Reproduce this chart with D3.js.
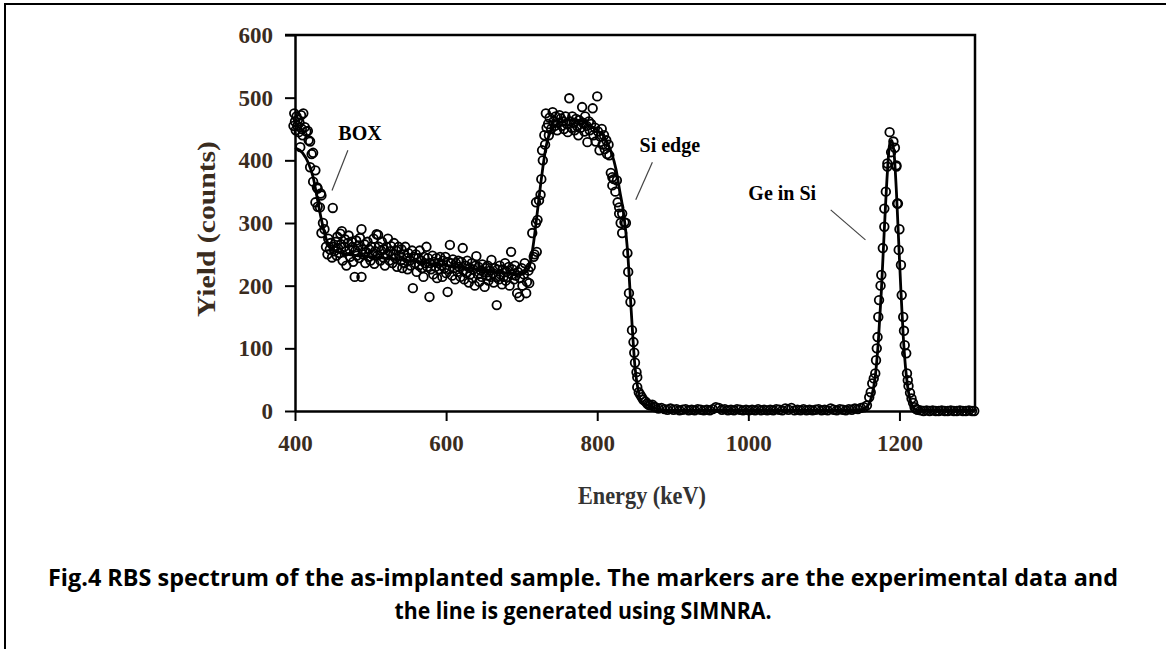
<!DOCTYPE html>
<html>
<head>
<meta charset="utf-8">
<script src="https://cdn.jsdelivr.net/npm/d3@7"></script>
<style>
  body { margin: 0; background: #fff; }
  svg { display: block; }
</style>
</head>
<body>
<svg width="1166" height="649"></svg>
<script>
// SIMNRA simulation (line)
var simEnergy = [400,410,418,424,430,435,440,446,455,470,500,550,600,650,680,700,706,710,715,720,726,732,740,750,760,770,780,790,800,810,818,825,830,835,840,845,850,855,860,870,880,900,1000,1100,1150,1158,1163,1168,1172,1176,1180,1184,1187,1190,1193,1196,1199,1202,1205,1208,1211,1214,1218,1222,1230,1300];
var simCounts = [420,412,395,373,336,305,280,262,255,250,246,240,232,225,220,218,222,230,262,310,370,420,450,460,464,465,462,456,448,436,415,385,350,315,258,160,70,28,12,8,3,1,1,1,2,8,22,55,110,190,290,380,425,432,410,350,270,190,120,70,38,18,6,2,1,1];

// experimental data [energy keV, counts]
var boxEdgeData = [[398,455],[399,475],[400,462],[401,448],[402,470],[403,455],[404,465],[405,445],[406,460],[407,421],[408,472],[409,450],[410,440],[411,475],[413,453],[415,446],[417,447],[418,432],[420,430],[420,389],[422,410],[424,412],[424,366],[427,384],[427,333],[429,357],[430,355],[430,326],[433,325],[434,347],[435,344],[435,284],[437,300],[439,290]];

var boxPlateauData = [[441,262],[443,250],[444,275],[446,258],[447,268],[449,245],[450,324],[451,262],[452,255],[454,270],[455,248],[456,278],[457,260],[459,252],[460,283],[461,266],[462,287],[463,240],[465,262],[466,274],[467,255],[468,232],[470,268],[471,280],[472,258],[473,246],[475,270],[476,262],[477,238],[479,214],[480,256],[481,272],[482,248],[484,264],[485,244],[486,276],[488,290],[488,214],[489,258],[490,250],[492,266],[493,236],[494,254],[496,270],[497,246],[498,258],[500,240],[501,262],[502,250],[504,275],[505,235],[506,255],[508,282],[509,248],[510,281],[511,262],[513,240],[514,256],[515,270],[517,245],[518,258],[519,232],[521,262],[522,250],[523,275],[525,240],[526,255],[527,263],[529,236],[530,250],[531,268],[533,244],[534,256],[535,230],[537,262],[538,248],[540,240],[541,258],[542,228],[544,250],[545,236],[546,262],[548,244],[549,226],[550,252],[552,240],[553,232],[555,256],[556,196],[557,246],[559,236],[560,250],[561,222],[563,244],[564,232],[565,256],[567,240],[568,228],[570,214],[571,246],[572,236],[574,262],[575,230],[576,244],[578,182],[579,236],[580,226],[582,248],[583,218],[584,238],[586,230],[587,244],[588,212],[590,236],[591,226],[592,246],[594,232],[595,214],[596,240],[598,228],[599,246],[600,220],[602,190],[603,238],[604,226],[605,265],[607,236],[608,216],[609,242],[611,228],[612,210],[613,236],[615,222],[616,240],[617,230],[619,214],[620,238],[622,260],[623,224],[624,210],[626,232],[627,220],[628,240],[630,205],[631,228],[632,218],[634,236],[635,212],[636,226],[638,200],[639,232],[640,247],[642,218],[643,230],[644,206],[646,224],[647,214],[648,234],[650,222],[651,198],[652,228],[654,216],[655,232],[656,208],[658,224],[659,214],[660,241],[662,220],[663,205],[664,228],[666,214],[667,169],[668,226],[670,210],[671,232],[672,218],[674,202],[675,226],[676,214],[678,236],[679,208],[680,222],[682,214],[683,230],[684,200],[686,254],[687,218],[688,226],[690,210],[691,232],[692,216],[694,188],[695,222],[697,182],[698,212],[700,228],[701,200],[703,218],[704,236],[706,188],[707,206],[709,224],[710,204]];

var siData = [[712,230],[714,284],[716,246],[717,250],[719,300],[719,333],[720,254],[721,305],[723,336],[725,345],[726,370],[727,416],[728,400],[730,440],[731,425],[732,475],[733,452],[735,458],[736,440],[737,468],[739,450],[741,477],[742,462],[744,455],[745,470],[747,448],[748,460],[750,472],[752,467],[753,455],[755,462],[756,450],[758,470],[760,458],[761,445],[763,499],[764,462],[766,452],[767,470],[769,460],[770,448],[772,466],[773,455],[775,440],[776,464],[778,452],[780,485],[781,460],[783,446],[784,470],[786,455],[787,429],[789,462],[790,448],[792,458],[794,483],[795,440],[797,452],[798,430],[800,502],[801,446],[803,416],[804,438],[806,450],[807,425],[809,440],[810,418],[812,432],[813,410],[815,425],[816,408],[818,380],[820,373],[820,360],[822,370],[824,350],[826,368],[827,333],[829,325],[829,315],[831,300],[833,315],[833,284],[836,301],[838,300],[840,252],[841,222],[842,188],[844,174],[846,129],[848,110],[849,93],[850,77],[852,62],[853,54],[853,38],[855,30],[857,26],[859,22],[861,18],[864,15],[866,12],[868,10],[870,9],[873,10],[875,7]];

var zeroData = [[877,6],[881,4],[885,5],[889,3],[893,2],[897,4],[901,2],[905,3],[909,1],[913,2],[917,3],[921,1],[925,2],[929,1],[933,3],[937,2],[941,1],[945,2],[949,1],[953,3],[957,6],[961,5],[965,2],[969,3],[973,1],[977,2],[981,1],[985,3],[989,2],[993,1],[997,2],[1001,1],[1005,2],[1009,1],[1013,3],[1017,1],[1021,2],[1025,1],[1029,2],[1033,1],[1037,3],[1041,2],[1045,1],[1049,4],[1053,2],[1057,5],[1061,1],[1065,2],[1069,1],[1073,3],[1077,1],[1081,2],[1085,1],[1089,2],[1093,3],[1097,1],[1101,2],[1105,1],[1109,4],[1113,2],[1117,1],[1121,3],[1125,2],[1129,1],[1133,3],[1137,2],[1141,4],[1145,3],[1149,5],[1153,6],[1157,9]];

var geData = [[1160,22],[1162,30],[1164,44],[1166,52],[1168,60],[1169,81],[1170,100],[1171,118],[1172,150],[1173,177],[1175,200],[1176,217],[1178,260],[1180,294],[1180,323],[1182,350],[1184,390],[1184,395],[1187,445],[1189,413],[1192,430],[1194,420],[1196,390],[1196,392],[1197,331],[1198,331],[1199,257],[1200,290],[1202,233],[1203,185],[1205,150],[1206,128],[1207,105],[1209,92],[1210,60],[1211,49],[1212,40],[1214,29],[1216,20],[1218,13],[1220,6],[1222,3]];

var tailData = [[1224,2],[1228,1],[1232,0],[1236,1],[1240,0],[1244,1],[1248,0],[1252,0],[1256,1],[1260,0],[1264,0],[1268,1],[1272,0],[1276,0],[1280,1],[1284,0],[1288,0],[1292,1],[1296,0],[1299,0]];

var xTicks = [400, 600, 800, 1000, 1200];
var yTicks = [0, 100, 200, 300, 400, 500, 600];

var annotations = [
  {label: "BOX", tx: 486, ty: 432, anchor: "middle", from: [470, 416], to: [449, 352]},
  {label: "Si edge", tx: 856, ty: 413, anchor: "start", from: [873, 397], to: [851, 337]},
  {label: "Ge in Si", tx: 1000, ty: 337, anchor: "start", from: [1109, 321], to: [1155, 273]}
];

var captionLines = [
  "Fig.4 RBS spectrum of the as-implanted sample. The markers are the experimental data and",
  "the line is generated using SIMNRA."
];

var svg = d3.select("svg");
var serif = "'Liberation Serif', 'Times New Roman', serif";
var tickColor = "#3a2c1e";

// page frame (left and top edges)
svg.append("path")
  .attr("d", "M5,649V4H1166")
  .attr("fill", "none")
  .attr("stroke", "#000")
  .attr("stroke-width", 2);

var x = d3.scaleLinear().domain([400, 1300]).range([295, 975]);
var y = d3.scaleLinear().domain([0, 600]).range([411, 35]);

// plot frame (top + right)
svg.append("path")
  .attr("d", "M" + (x(400) - 10) + "," + y(600) + "H" + x(1300) + "V" + y(0))
  .attr("fill", "none")
  .attr("stroke", "#000")
  .attr("stroke-width", 2.5);

var yAxis = svg.append("g")
  .attr("transform", "translate(" + x(400) + ",0)")
  .call(d3.axisLeft(y).tickValues(yTicks).tickFormat(d3.format("d"))
    .tickSize(10).tickSizeOuter(0).tickPadding(12));

var xAxis = svg.append("g")
  .attr("transform", "translate(0," + y(0) + ")")
  .call(d3.axisBottom(x).tickValues(xTicks).tickFormat(d3.format("d"))
    .tickSize(10).tickSizeOuter(0).tickPadding(14));

[xAxis, yAxis].forEach(function(g) {
  g.select(".domain").attr("stroke", "#000").attr("stroke-width", 2.5);
  g.selectAll(".tick line").attr("stroke", "#000").attr("stroke-width", 2);
  g.selectAll(".tick text")
    .attr("fill", tickColor)
    .style("font-family", serif)
    .style("font-weight", "bold")
    .style("font-size", "23px");
});

// markers
var allPoints = boxEdgeData.concat(boxPlateauData, siData, zeroData, geData, tailData);
svg.append("g")
  .selectAll("circle")
  .data(allPoints)
  .enter()
  .append("circle")
  .attr("cx", function(d) { return x(d[0]); })
  .attr("cy", function(d) { return y(d[1]); })
  .attr("r", 4.3)
  .attr("fill", "none")
  .attr("stroke", "#000")
  .attr("stroke-width", 1.8);

// simulation line
var line = d3.line()
  .x(function(d) { return x(d[0]); })
  .y(function(d) { return y(d[1]); })
  .curve(d3.curveMonotoneX);

svg.append("path")
  .datum(d3.zip(simEnergy, simCounts))
  .attr("d", line)
  .attr("fill", "none")
  .attr("stroke", "#000")
  .attr("stroke-width", 2.8);

// annotations
annotations.forEach(function(a) {
  svg.append("line")
    .attr("x1", x(a.from[0])).attr("y1", y(a.from[1]))
    .attr("x2", x(a.to[0])).attr("y2", y(a.to[1]))
    .attr("stroke", "#444")
    .attr("stroke-width", 1.2);
  svg.append("text")
    .attr("x", x(a.tx))
    .attr("y", y(a.ty))
    .attr("text-anchor", a.anchor)
    .style("font-family", serif)
    .style("font-weight", "bold")
    .style("font-size", "20px")
    .text(a.label);
});

// axis titles
svg.append("text")
  .attr("transform", "translate(215,229) rotate(-90)")
  .attr("text-anchor", "middle")
  .attr("fill", tickColor)
  .attr("textLength", 176)
  .attr("lengthAdjust", "spacingAndGlyphs")
  .style("font-family", serif)
  .style("font-weight", "bold")
  .style("font-size", "25px")
  .text("Yield (counts)");

svg.append("text")
  .attr("x", 642)
  .attr("y", 504)
  .attr("text-anchor", "middle")
  .attr("fill", "#333")
  .attr("textLength", 128)
  .attr("lengthAdjust", "spacingAndGlyphs")
  .style("font-family", serif)
  .style("font-size", "25px")
  .style("font-weight", "bold")
  .text("Energy (keV)");

// caption
var captionWidths = [1070, 377];
svg.selectAll(".caption")
  .data(captionLines)
  .enter()
  .append("text")
  .attr("class", "caption")
  .attr("x", 583)
  .attr("y", function(d, i) { return 586 + i * 33; })
  .attr("text-anchor", "middle")
  .attr("textLength", function(d, i) { return captionWidths[i]; })
  .attr("lengthAdjust", "spacingAndGlyphs")
  .style("font-family", "'Liberation Sans Narrow', 'Open Sans', sans-serif")
  .style("font-weight", "bold")
  .style("font-size", "23px")
  .text(function(d) { return d; });
</script>
</body>
</html>
